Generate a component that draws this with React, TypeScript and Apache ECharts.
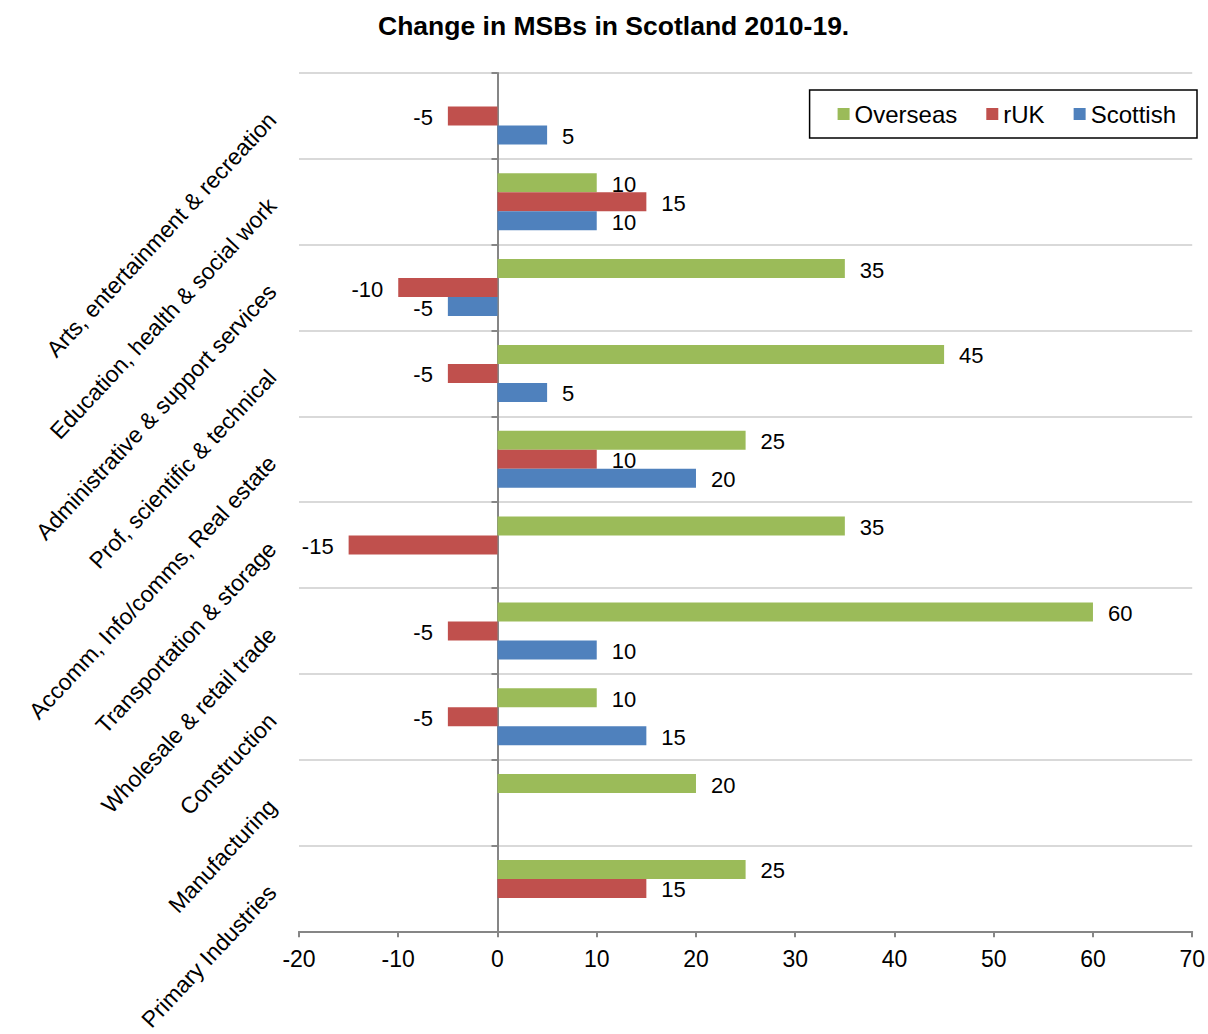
import React, { useEffect, useRef } from "react";
import * as echarts from "echarts";

const categories = [
  "Primary Industries",
  "Manufacturing",
  "Construction",
  "Wholesale & retail trade",
  "Transportation & storage",
  "Accomm, Info/comms, Real estate",
  "Prof, scientific & technical",
  "Administrative & support services",
  "Education, health & social work",
  "Arts, entertainment & recreation",
];

const overseas: (number | null)[] = [25, 20, 10, 60, 35, 25, 45, 35, 10, null];
const rUK: (number | null)[] = [15, null, -5, -5, -15, 10, -5, -10, 15, -5];
const scottish: (number | null)[] = [null, null, 15, 10, null, 20, 5, -5, 10, 5];

const xTicks = { min: -20, max: 70, interval: 10 };

const FONT = "'Liberation Sans', Arial, sans-serif";

function toData(values: (number | null)[]) {
  return values.map((v) =>
    v === null
      ? { value: null }
      : { value: v, label: { position: v < 0 ? "left" : "right" } }
  );
}

export default function App() {
  const ref = useRef<HTMLDivElement>(null);
  useEffect(() => {
    if (!ref.current) return;
    const chart = echarts.init(ref.current, undefined, { renderer: "svg" });
    const labelCfg = {
      show: true,
      distance: 15,
      fontSize: 22,
      color: "#000",
      fontFamily: FONT,
      offset: [0, 1.5],
    };
    const mk = (name: string, data: (number | null)[], color: string) => ({
      name,
      type: "bar",
      data: toData(data),
      barWidth: 19,
      barGap: "0%",
      itemStyle: { color },
      label: labelCfg,
      yAxisIndex: 0,
    });
    chart.setOption({
      animation: false,
      textStyle: { fontFamily: FONT },
      title: {
        text: "Change in MSBs in Scotland 2010-19.",
        left: 373,
        top: 7,
        textStyle: { fontSize: 26.5, fontWeight: "bold", color: "#000", fontFamily: FONT },
      },
      legend: {
        data: ["Overseas", "rUK", "Scottish"],
        right: 11,
        top: 90,
        orient: "horizontal",
        icon: "rect",
        itemWidth: 12,
        itemHeight: 12,
        itemGap: 29,
        padding: [12, 21, 12, 28],
        borderColor: "#000",
        borderWidth: 1.5,
        textStyle: { fontSize: 24, color: "#000", fontFamily: FONT },
      },
      grid: { left: 299, right: 15, top: 73, bottom: 102, containLabel: false },
      xAxis: {
        type: "value",
        min: xTicks.min,
        max: xTicks.max,
        interval: xTicks.interval,
        axisLine: { show: true, onZero: false, lineStyle: { color: "#868686", width: 2 } },
        axisTick: { show: true, length: 6, lineStyle: { color: "#868686", width: 2 } },
        axisLabel: { fontSize: 23, color: "#000", margin: 16, fontFamily: FONT },
        splitLine: { show: false },
      },
      yAxis: [
        {
          type: "category",
          data: categories,
          axisLine: { show: false, onZero: false },
          axisTick: { show: false },
          axisLabel: { rotate: 47, fontSize: 23, color: "#000", margin: 27, fontFamily: FONT },
          splitLine: { show: true, lineStyle: { color: "#D9D9D9", width: 2 } },
        },
        {
          type: "category",
          data: categories,
          position: "left",
          axisLine: {
            show: true,
            onZero: true,
            onZeroAxisIndex: 0,
            lineStyle: { color: "#868686", width: 2 },
          },
          axisTick: { show: true, length: 6, lineStyle: { color: "#868686", width: 2 } },
          axisLabel: { show: false },
          splitLine: { show: false },
        },
      ],
      series: [
        mk("Overseas", overseas, "#9BBB59"),
        mk("rUK", rUK, "#C0504D"),
        mk("Scottish", scottish, "#4F81BD"),
      ],
    });
    return () => chart.dispose();
  }, []);
  return (
    <div
      ref={ref}
      style={{ position: "absolute", left: 0, top: 0, width: 1208, height: 1034 }}
    />
  );
}
